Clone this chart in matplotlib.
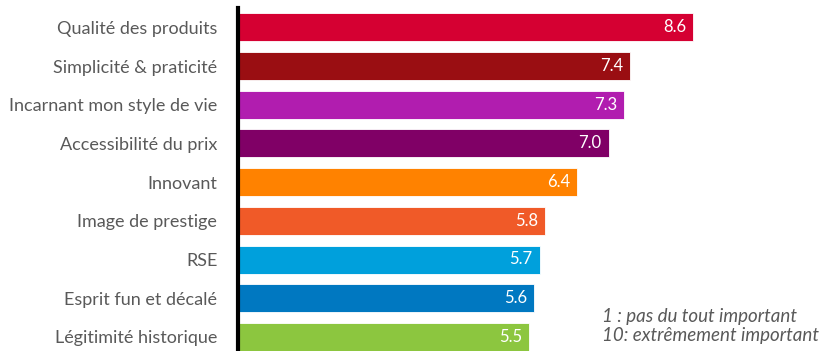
import matplotlib.pyplot as plt

# données
criteres = ['Qualité des produits', 'Simplicité & praticité', 'Incarnant mon style de vie',
            'Accessibilité du prix', 'Innovant', 'Image de prestige', 'RSE',
            'Esprit fun et décalé', 'Légitimité historique']
scores = [8.6, 7.4, 7.3, 7.0, 6.4, 5.8, 5.7, 5.6, 5.5]
couleurs = ['#D50032', '#9A0E12', '#B11DAF', '#800066', '#FF8200',
            '#F05A28', '#00A0DC', '#0078C1', '#8CC63F']
note = '1 : pas du tout important\n10: extrêmement important'

plt.rcParams['font.family'] = ['Lato', 'DejaVu Sans']

W, H = 823, 351
fig = plt.figure(figsize=(W / 100, H / 100), dpi=100)
x0 = 237.5
ax = fig.add_axes([x0 / W, 0, 1 - x0 / W, 343.5 / H])

pas = 38.7
ax.barh(range(len(criteres)), scores, height=28 / pas, color=couleurs,
        edgecolor='white', linewidth=0.6)
ax.set_xlim(0, (W - x0) / 53.0)
ax.set_ylim((351 - 27.3) / pas, -(27.3 - 7.5) / pas)

for i, v in enumerate(scores):
    ax.text(v - 0.13, i, f'{v:.1f}', ha='right', va='center',
            color='white', fontsize=12)

ax.set_yticks(range(len(criteres)))
ax.set_yticklabels(criteres, fontsize=13, color='#595959')
ax.tick_params(axis='y', length=0, pad=14.5)
ax.set_xticks([])
for s in ['top', 'right', 'bottom']:
    ax.spines[s].set_visible(False)
ax.spines['left'].set_linewidth(3)
ax.spines['left'].set_color('black')

fig.text(602 / W, 1 - 326 / H, note, ha='left', va='center', fontsize=13.5,
         style='italic', color='#595959', linespacing=1.2)

fig.savefig('out.png', dpi=100, facecolor='white')
